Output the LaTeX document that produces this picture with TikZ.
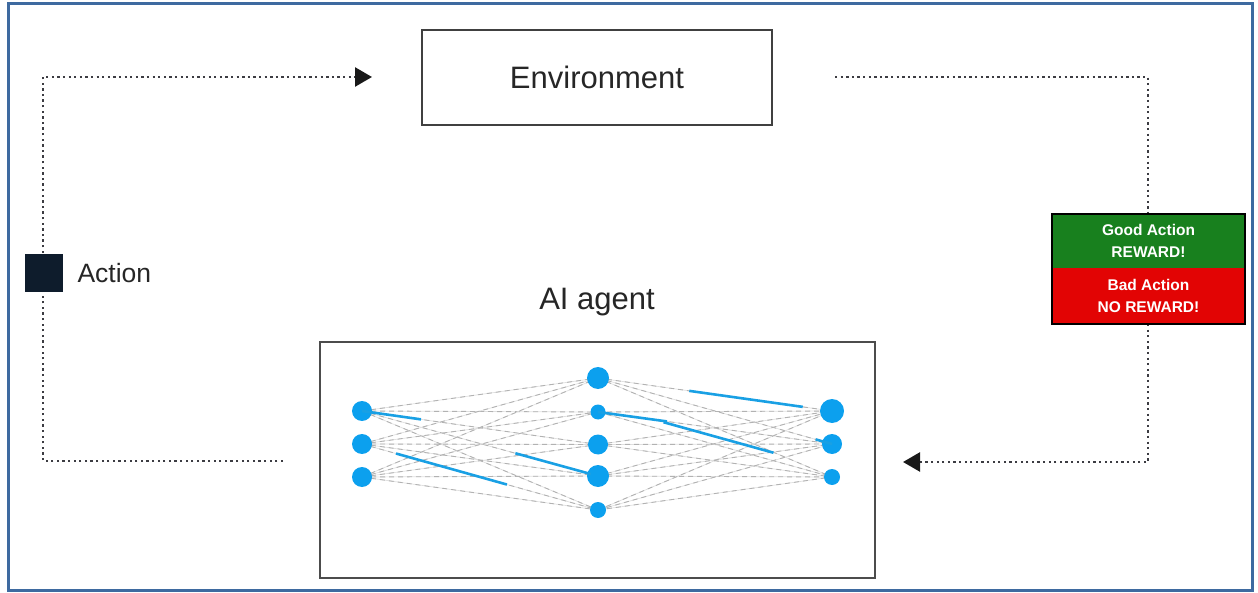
\documentclass[tikz,border=0pt]{standalone}
\usepackage{fontspec}
\setmainfont{Liberation Sans}
\usetikzlibrary{arrows.meta,calc,backgrounds}
\definecolor{frameblue}{RGB}{62,106,160}
\definecolor{nblue}{RGB}{12,160,238}
\definecolor{hblue}{RGB}{25,160,228}
\definecolor{goodgreen}{RGB}{24,128,30}
\definecolor{badred}{RGB}{226,4,4}
\definecolor{navy}{RGB}{14,28,44}
\definecolor{dotgray}{RGB}{60,60,66}
\tikzset{
  neuron/.style={circle, fill=nblue, inner sep=0pt, minimum size=#1},
  neuron/.default=20pt,
  dotline/.style={draw=dotgray, line width=2.5pt, dash pattern=on 2.3pt off 3.3pt},
  tip/.style={-{Triangle[length=17pt,width=19pt,color=black!90]}},
  glink/.style={draw=gray!25, line width=0.7pt},
  gdash/.style={draw=gray!60, line width=0.9pt, dash pattern=on 5pt off 4pt},
  hlink/.style={draw=hblue, line width=2.6pt},
  bigtext/.style={font=\fontsize{31}{36}\selectfont, text=black!85},
}
\begin{document}
\begin{tikzpicture}[x=1pt,y=-1pt]
\useasboundingbox (0,0) rectangle (1258,593);
\draw[frameblue, line width=3pt] (8,4) rectangle (1252,590);

% Environment
\node[draw=black!75, line width=1.3pt, minimum width=350pt, minimum height=95pt, bigtext] (env) at (597,77.5) {Environment};

% AI agent
\node[bigtext] (agentlabel) at (597,302) {AI agent};
\node[draw=black!70, line width=1.8pt, minimum width=555pt, minimum height=236pt] (agent) at (597.5,460) {};

% neurons
\node[neuron=20pt] (L1) at (362,411) {};
\node[neuron=20pt] (L2) at (362,444) {};
\node[neuron=20pt] (L3) at (362,477) {};
\node[neuron=22pt] (M1) at (598,378) {};
\node[neuron=15pt] (M2) at (598,412) {};
\node[neuron=20pt] (M3) at (598,444.5) {};
\node[neuron=22pt] (M4) at (598,476) {};
\node[neuron=16pt] (M5) at (598,510) {};
\node[neuron=24pt] (R1) at (832,411) {};
\node[neuron=20pt] (R2) at (832,444) {};
\node[neuron=16pt] (R3) at (832,477) {};

\begin{pgfonlayer}{background}
\foreach \l in {1,2,3}{
  \foreach \m in {1,...,5}{
    \draw[glink] (L\l.center) -- (M\m.center);
    \draw[gdash] (L\l.center) -- (M\m.center);
  }
}
\foreach \m in {1,...,5}{
  \foreach \r in {1,2,3}{
    \draw[glink] (M\m.center) -- (R\r.center);
    \draw[gdash] (M\m.center) -- (R\r.center);
  }
}
\end{pgfonlayer}

% highlighted weights
\draw[hlink] (L1.center) -- ($(L1.center)!0.25!(M3.center)$);
\draw[hlink] ($(L2.center)!0.144!(M5.center)$) -- ($(L2.center)!0.614!(M5.center)$);
\draw[hlink] ($(L1.center)!0.65!(M4.center)$) -- ($(L1.center)!0.97!(M4.center)$);
\draw[hlink] (M2.center) -- ($(M2.center)!0.295!(R2.center)$);
\draw[hlink] ([yshift=8pt]$(M2.center)!0.28!(R3.center)$) -- ([yshift=8pt]$(M2.center)!0.75!(R3.center)$);
\draw[hlink] ($(M1.center)!0.39!(R1.center)$) -- ($(M1.center)!0.875!(R1.center)$);
\draw[hlink] ($(M1.center)!0.93!(R2.center)$) -- (R2.center);

% left loop (Action)
\coordinate (actStart) at (283,461);
\coordinate (actC1) at (43,461);
\coordinate (actC2) at (43,77);
\coordinate (actEnd) at (372,77);
\draw[dotline, tip] (actStart) -- (actC1) -- (actC2) -- (actEnd);
\node[fill=navy, minimum size=38pt, inner sep=0pt] (actbox) at (44,273.5) {};
\node[anchor=west, font=\fontsize{26.5}{30}\selectfont, text=black!85] (actlabel) at (74,273.5) {Action};

% right loop (Reward)
\coordinate (rwStart) at (835,77);
\coordinate (rwC1) at (1148,77);
\coordinate (rwC2) at (1148,462);
\coordinate (rwEnd) at (903,462);
\draw[dotline, tip] (rwStart) -- (rwC1) -- (rwC2) -- (rwEnd);

\node[fill=goodgreen, minimum width=193pt, minimum height=54pt, inner sep=0pt, anchor=south, align=center, text=white, font=\bfseries\fontsize{15.5}{22}\selectfont] (good) at (1148.5,268) {Good Action\\REWARD!};
\node[fill=badred, minimum width=193pt, minimum height=56pt, inner sep=0pt, anchor=north, align=center, text=white, font=\bfseries\fontsize{15.5}{22}\selectfont] (bad) at (1148.5,268) {Bad Action\\NO REWARD!};
\draw[black, line width=2pt] (good.north west) rectangle (bad.south east);
\end{tikzpicture}
\end{document}
